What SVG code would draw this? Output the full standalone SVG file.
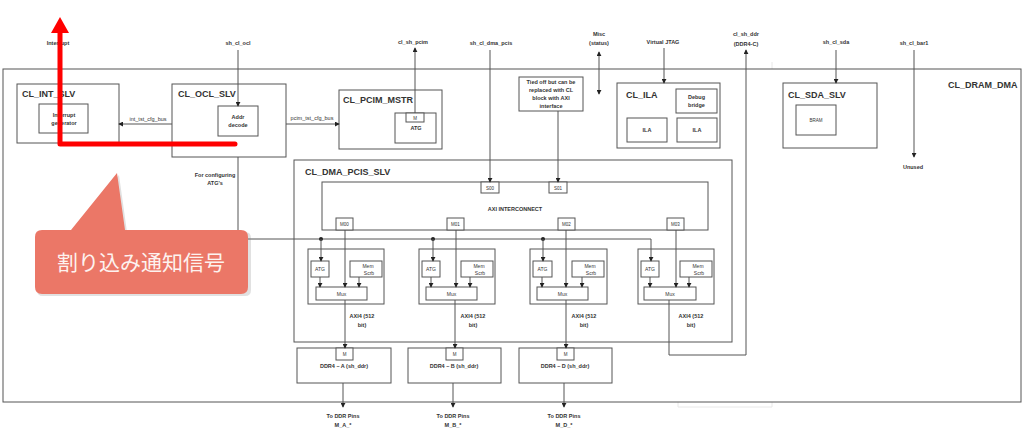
<svg xmlns="http://www.w3.org/2000/svg" width="1024" height="433" viewBox="0 0 1024 433">
<defs>
<style>
.b{fill:#fff;stroke:#555;stroke-width:1}
.n{fill:none;stroke:#555;stroke-width:1}
.t{font-family:"Liberation Sans",Arial,sans-serif;font-weight:bold;fill:#333}
.ti{font-size:9px}
.s{font-size:5.5px;text-anchor:middle}
.xs{font-size:4.5px;text-anchor:middle;font-weight:normal}
.m{font-size:5px;text-anchor:middle;font-weight:normal}
</style>
<marker id="a" viewBox="0 0 6 6" refX="5" refY="3" markerWidth="5" markerHeight="5" orient="auto-start-reverse"><path d="M0,0 L6,3 L0,6 z" fill="#222"/></marker>
</defs>
<rect width="1024" height="433" fill="#fff"/>
<path d="M772,62 V407 H678 V395" fill="none" stroke="#e8e8e8" stroke-width="1"/>
<g id="CL_DRAM_DMA"><rect class="b" x="3" y="69" width="1018" height="333" fill="none"/><text class="t ti" x="948" y="88">CL_DRAM_DMA</text></g>
<g id="CL_INT_SLV"><rect class="b" x="17" y="84" width="102" height="59"/><text class="t ti" x="22" y="97">CL_INT_SLV</text>
<rect class="b" x="39" y="104" width="49" height="29"/><text class="t s" x="64" y="117">Interrupt</text><text class="t s" x="64" y="125">generator</text></g>
<g id="CL_OCL_SLV"><rect class="b" x="172" y="84" width="114" height="73"/><text class="t ti" x="178" y="97">CL_OCL_SLV</text>
<rect class="b" x="218" y="106" width="40" height="30"/><text class="t s" x="238" y="119">Addr</text><text class="t s" x="238" y="127">decode</text></g>
<g id="CL_PCIM_MSTR"><rect class="b" x="339" y="90" width="103" height="59"/><text class="t ti" x="343" y="103">CL_PCIM_MSTR</text>
<rect class="b" x="395" y="113" width="41" height="30"/><rect class="b" x="406" y="113" width="18" height="9"/><text class="t xs" x="415" y="119.5">M</text><text class="t s" x="416" y="130">ATG</text></g>
<g id="TiedOff"><rect class="b" x="519" y="77" width="64" height="34"/><text class="t s" x="551" y="84">Tied off but can be</text><text class="t s" x="551" y="92">replaced with CL</text><text class="t s" x="551" y="100">block with AXI</text><text class="t s" x="551" y="108">interface</text></g>
<g id="CL_ILA"><rect class="b" x="617" y="83" width="103" height="65"/><text class="t ti" x="626" y="98">CL_ILA</text>
<rect class="b" x="676" y="89" width="41" height="24"/><text class="t s" x="696.5" y="99">Debug</text><text class="t s" x="696.5" y="107">bridge</text>
<rect class="b" x="627" y="118" width="40" height="24"/><text class="t s" x="647" y="132">ILA</text>
<rect class="b" x="677" y="118" width="40" height="24"/><text class="t s" x="697" y="132">ILA</text></g>
<g id="CL_SDA_SLV"><rect class="b" x="783" y="83" width="94" height="65"/><text class="t ti" x="788" y="98">CL_SDA_SLV</text>
<rect class="b" x="796" y="105" width="40" height="30"/><text class="t xs" x="816" y="122">BRAM</text></g>
<g id="CL_DMA_PCIS_SLV"><rect class="b" x="294" y="160" width="438" height="182" fill="none"/><text class="t ti" x="305" y="175">CL_DMA_PCIS_SLV</text></g>
<g id="AXI_INTERCONNECT"><rect class="b" x="322" y="182" width="386" height="48"/><text class="t s" x="515" y="211">AXI INTERCONNECT</text>
<rect class="b" x="481" y="182" width="18" height="11"/><text class="t xs" x="490" y="189.5">S00</text>
<rect class="b" x="549" y="182" width="18" height="11"/><text class="t xs" x="558" y="189.5">S01</text>
<rect class="b" x="336" y="218" width="17" height="12"/><text class="t xs" x="344.5" y="226">M00</text>
<rect class="b" x="447" y="218" width="17" height="12"/><text class="t xs" x="455.5" y="226">M01</text>
<rect class="b" x="558" y="218" width="17" height="12"/><text class="t xs" x="566.5" y="226">M02</text>
<rect class="b" x="667" y="218" width="17" height="12"/><text class="t xs" x="675.5" y="226">M03</text></g>
<g id="Sub1"><rect class="b" x="308" y="249" width="76" height="55"/><rect class="b" x="311" y="261" width="18" height="16"/><text class="t m" x="320" y="271">ATG</text><rect class="b" x="350" y="261" width="32" height="16"/><text class="t m" x="368" y="267.5">Mem</text><text class="t m" x="369" y="275">Scrb</text><rect class="b" x="316" y="287" width="51" height="13"/><text class="t m" x="341.5" y="295.5">Mux</text></g>
<g id="Sub2"><rect class="b" x="419" y="249" width="76" height="55"/><rect class="b" x="422" y="261" width="18" height="16"/><text class="t m" x="431" y="271">ATG</text><rect class="b" x="461" y="261" width="32" height="16"/><text class="t m" x="479" y="267.5">Mem</text><text class="t m" x="480" y="275">Scrb</text><rect class="b" x="426" y="287" width="51" height="13"/><text class="t m" x="451.5" y="295.5">Mux</text></g>
<g id="Sub3"><rect class="b" x="530" y="249" width="77" height="55"/><rect class="b" x="533" y="261" width="19" height="16"/><text class="t m" x="542.5" y="271">ATG</text><rect class="b" x="572" y="261" width="32" height="16"/><text class="t m" x="590" y="267.5">Mem</text><text class="t m" x="591" y="275">Scrb</text><rect class="b" x="537" y="287" width="51" height="13"/><text class="t m" x="562.5" y="295.5">Mux</text></g>
<g id="Sub4"><rect class="b" x="638" y="249" width="76" height="55"/><rect class="b" x="641" y="261" width="18" height="16"/><text class="t m" x="650" y="271">ATG</text><rect class="b" x="680" y="261" width="32" height="16"/><text class="t m" x="698" y="267.5">Mem</text><text class="t m" x="699" y="275">Scrb</text><rect class="b" x="644" y="287" width="52" height="13"/><text class="t m" x="670" y="295.5">Mux</text></g>
<g id="DDR4_A"><rect class="b" x="297" y="348" width="94" height="35"/><rect class="b" x="336" y="348" width="17" height="12"/><text class="t xs" x="344.5" y="356">M</text><text class="t s" x="344" y="368">DDR4 – A (sh_ddr)</text></g>
<g id="DDR4_B"><rect class="b" x="408" y="348" width="93" height="35"/><rect class="b" x="446" y="348" width="17" height="12"/><text class="t xs" x="454.5" y="356">M</text><text class="t s" x="454" y="368">DDR4 – B (sh_ddr)</text></g>
<g id="DDR4_D"><rect class="b" x="519" y="348" width="93" height="35"/><rect class="b" x="557" y="348" width="17" height="12"/><text class="t xs" x="565.5" y="356">M</text><text class="t s" x="565" y="368">DDR4 – D (sh_ddr)</text></g>
<g id="connectors">
<path class="n" d="M238,50 V106" marker-end="url(#a)"/>
<path class="n" d="M172,124 H119" marker-end="url(#a)"/>
<path class="n" d="M286,124 H339" marker-end="url(#a)"/>
<path class="n" d="M415,113 V48" marker-end="url(#a)"/>
<path class="n" d="M490,50 V182" marker-end="url(#a)"/>
<path class="n" d="M558,111 V182" marker-end="url(#a)"/>
<path class="n" d="M599,52 V94" marker-start="url(#a)" marker-end="url(#a)"/>
<path class="n" d="M664,48 V83" marker-end="url(#a)"/>
<path class="n" d="M669,300 V355 H746 V50" marker-end="url(#a)"/>
<path class="n" d="M836,50 V83" marker-end="url(#a)"/>
<path class="n" d="M914,50 V157" marker-end="url(#a)"/>
<path class="n" d="M238,157 V239 H651 V261" marker-end="url(#a)"/>
<circle cx="321" cy="239" r="2" fill="#222"/><circle cx="433" cy="239" r="2" fill="#222"/><circle cx="543" cy="239" r="2" fill="#222"/>
<path class="n" d="M321,239 V261" marker-end="url(#a)"/><path class="n" d="M433,239 V261" marker-end="url(#a)"/><path class="n" d="M543,239 V261" marker-end="url(#a)"/>
<path class="n" d="M320,277 V287" marker-end="url(#a)"/><path class="n" d="M359,277 V287" marker-end="url(#a)"/><path class="n" d="M345,230 V287" marker-end="url(#a)"/>
<path class="n" d="M431,277 V287" marker-end="url(#a)"/><path class="n" d="M470,277 V287" marker-end="url(#a)"/><path class="n" d="M456,230 V287" marker-end="url(#a)"/>
<path class="n" d="M542,277 V287" marker-end="url(#a)"/><path class="n" d="M582,277 V287" marker-end="url(#a)"/><path class="n" d="M566,230 V287" marker-end="url(#a)"/>
<path class="n" d="M650,277 V287" marker-end="url(#a)"/><path class="n" d="M689,277 V287" marker-end="url(#a)"/><path class="n" d="M676,230 V287" marker-end="url(#a)"/>
<path class="n" d="M345,300 V348" marker-end="url(#a)"/><path class="n" d="M455,300 V348" marker-end="url(#a)"/><path class="n" d="M566,300 V348" marker-end="url(#a)"/>
<path class="n" d="M343,383 V407" marker-end="url(#a)"/><path class="n" d="M453,383 V407" marker-end="url(#a)"/><path class="n" d="M564,383 V407" marker-end="url(#a)"/>
</g>
<g id="labels" class="t">
<text class="t s" x="58" y="45">Interrupt</text>
<text class="t s" x="238" y="45">sh_cl_ocl</text>
<text class="t s" x="413" y="44">cl_sh_pcim</text>
<text class="t s" x="491" y="45">sh_cl_dma_pcis</text>
<text class="t s" x="599" y="36">Misc</text><text class="t s" x="599" y="45">(status)</text>
<text class="t s" x="663" y="44">Virtual JTAG</text>
<text class="t s" x="746" y="36">cl_sh_ddr</text><text class="t s" x="746" y="46">(DDR4-C)</text>
<text class="t s" x="836" y="44">sh_cl_sda</text>
<text class="t s" x="914" y="45">sh_cl_bar1</text>
<text class="t s" x="913" y="169">Unused</text>
<text class="t s" x="148" y="121" style="font-weight:normal">int_tst_cfg_bus</text>
<text class="t s" x="312" y="120" style="font-weight:normal">pcim_tst_cfg_bus</text>
<text class="t s" x="215" y="177">For configuring</text><text class="t s" x="215" y="185">ATG's</text>
<text class="t s" x="362" y="318">AXI4 (512</text><text class="t s" x="362" y="327">bit)</text>
<text class="t s" x="473" y="318">AXI4 (512</text><text class="t s" x="473" y="327">bit)</text>
<text class="t s" x="584" y="318">AXI4 (512</text><text class="t s" x="584" y="327">bit)</text>
<text class="t s" x="691" y="318">AXI4 (512</text><text class="t s" x="691" y="327">bit)</text>
<text class="t s" x="343" y="418">To DDR Pins</text><text class="t s" x="343" y="427">M_A_*</text>
<text class="t s" x="453" y="418">To DDR Pins</text><text class="t s" x="453" y="427">M_B_*</text>
<text class="t s" x="564" y="418">To DDR Pins</text><text class="t s" x="564" y="427">M_D_*</text>
</g>
<g id="red_arrow">
<path d="M235,144 H60 V31" fill="none" stroke="#ff0000" stroke-width="5" stroke-linecap="round" stroke-linejoin="round"/>
<polygon points="60,17 51,33 69,33" fill="#ff0000"/>
</g>
<g id="callout">
<path d="M43,232 H73 L119,175 L127,232 H245 Q251,232 251,238 V290 Q251,296 245,296 H43 Q37,296 37,290 V238 Q37,232 43,232 Z" fill="#888" opacity="0.25"/>
<path d="M42,230 H71 L117,173 L125,230 H241 Q248,230 248,237 V287 Q248,294 241,294 H42 Q35,294 35,287 V237 Q35,230 42,230 Z" fill="#EB7767"/>
<text x="141" y="270" font-family="'Noto Sans CJK JP','Noto Sans CJK SC',sans-serif" font-size="21" fill="#fdf2ef" text-anchor="middle">割り込み通知信号</text>
</g>
</svg>
